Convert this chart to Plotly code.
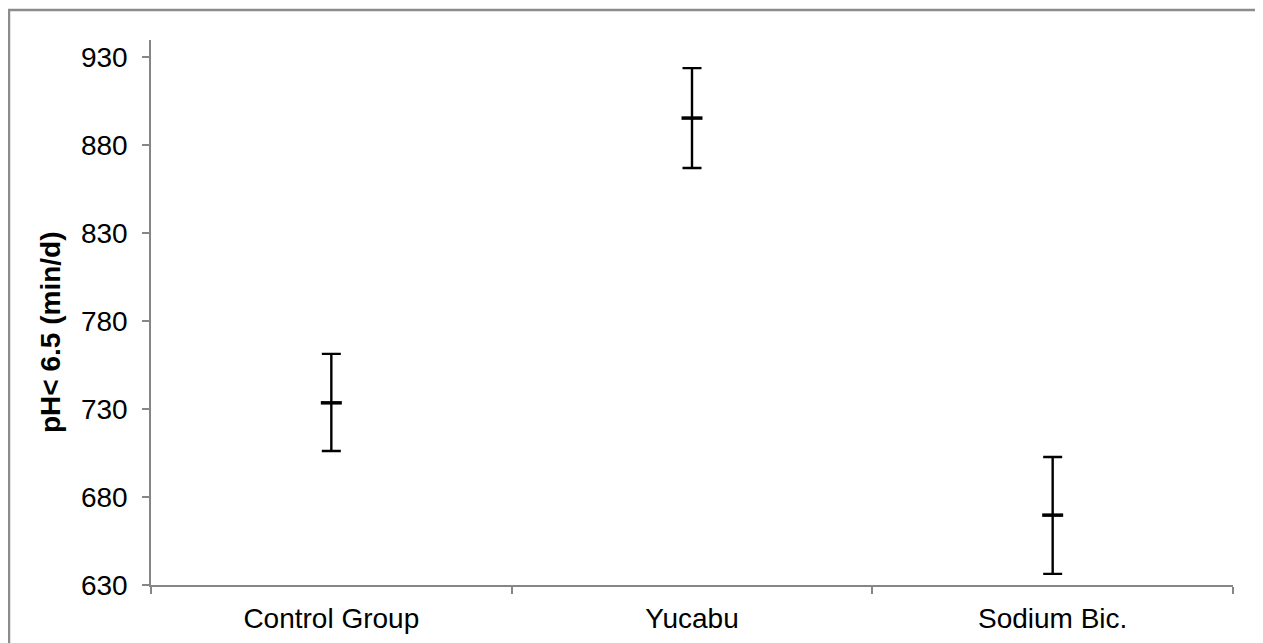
import plotly.graph_objects as go

categories = ["Control Group", "Yucabu", "Sodium Bic."]
means = [733.5, 895.3, 669.7]
upper = [761.3, 923.7, 702.7]
lower = [706.1, 866.9, 636.3]
y_ticks = [630, 680, 730, 780, 830, 880, 930]

err_plus = [u - m for u, m in zip(upper, means)]
err_minus = [m - l for m, l in zip(means, lower)]

FONT = "Liberation Sans, Arial, sans-serif"
AXIS_GRAY = "#868686"

W, H = 1255, 635
L, R, T, B = 143, W - 1225, 32, H - 577
pw, ph = W - L - R, H - T - B

fig = go.Figure()
fig.add_trace(go.Scatter(
    x=categories, y=means, mode="markers",
    marker=dict(symbol="line-ew", size=15, color="black",
                line=dict(width=3.5, color="black")),
    error_y=dict(type="data", symmetric=False, array=err_plus,
                 arrayminus=err_minus, color="black", thickness=2.4, width=9.5),
    showlegend=False,
))

fig.update_layout(
    width=W, height=H,
    margin=dict(l=L, r=R, t=T, b=B),
    paper_bgcolor="white", plot_bgcolor="white",
    font=dict(family=FONT, size=28, color="black"),
    xaxis=dict(
        type="category", range=[-0.5, 2.5], automargin=False,
        showline=True, linecolor=AXIS_GRAY, linewidth=1.5,
        ticks="outside", tickson="boundaries", ticklen=7,
        tickcolor=AXIS_GRAY, tickwidth=1.5,
        showgrid=False, zeroline=False,
        tickfont=dict(size=28), ticklabelstandoff=8,
    ),
    yaxis=dict(
        range=[630, 939.66], tickvals=y_ticks, automargin=False,
        showline=True, linecolor=AXIS_GRAY, linewidth=1.5,
        ticks="outside", ticklen=7, tickcolor=AXIS_GRAY, tickwidth=1.5,
        showgrid=False, zeroline=False,
        tickfont=dict(size=28), ticklabelstandoff=9,
    ),
    annotations=[dict(text="<b>pH< 6.5 (min/d)</b>", textangle=-90,
                      xref="paper", yref="paper",
                      x=(42 - L) / pw, y=(H - B - 325) / ph,
                      xanchor="center", yanchor="middle", showarrow=False,
                      font=dict(size=28))],
    shapes=[dict(type="rect", xref="paper", yref="paper",
                 x0=(1 - L) / pw, x1=(1253 - L) / pw,
                 y0=-0.3, y1=(H - B - 2) / ph,
                 line=dict(color="#8c8c8c", width=2.5), layer="below")],
)

fig.write_html("out.html")
